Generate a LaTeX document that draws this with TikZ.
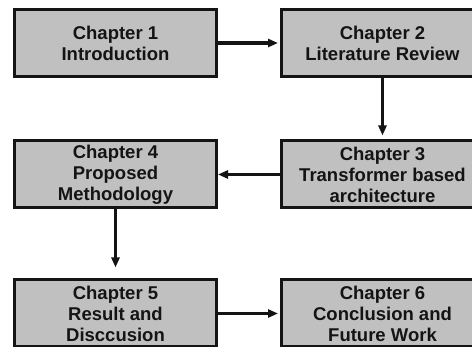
\documentclass[tikz,border=0pt]{standalone}
\usepackage{fontspec}
\setmainfont{Liberation Sans}
\usetikzlibrary{arrows.meta}
\definecolor{boxfill}{HTML}{C0C0C0}
\definecolor{inkdark}{HTML}{141414}
\begin{document}
\begin{tikzpicture}[x=1pt,y=-1pt,
  chapter/.style={draw=inkdark, fill=boxfill, line width=3pt,
    minimum width=202pt, minimum height=67pt, inner sep=0pt,
    align=center, text=inkdark,
    font=\fontsize{18.5}{21}\selectfont\bfseries},
  flow/.style={draw=inkdark, line width=3.6pt,
    -{Triangle[length=10pt,width=8pt]}}]
  \useasboundingbox (0,0) rectangle (472,347);
  \clip (0,0) rectangle (472,347);

  % chapter boxes
  \node[chapter] (c1) at (115.5,43)  {Chapter 1\\Introduction};
  \node[chapter] (c2) at (382.5,43)  {Chapter 2\\Literature Review};
  \node[chapter] (c3) at (382.5,174.5) {Chapter 3\\Transformer based\\architecture};
  \node[chapter] (c4) at (115.5,174.5) {Chapter 4\\Proposed\\Methodology};
  \node[chapter] (c5) at (115.5,313.5) {Chapter 5\\Result and\\Disccusion};
  \node[chapter] (c6) at (382.5,313.5) {Chapter 6\\Conclusion and\\Future Work};

  % reading order
  \draw[flow, shorten >=2pt] (c1.east) -- (c2.west);
  \draw[flow, shorten >=4pt] (c2.south) -- (c3.north);
  \draw[flow] (c3.west) -- (c4.east);
  \draw[flow, shorten >=11pt] (c4.south) -- (c5.north);
  \draw[flow, shorten >=2pt] (c5.east) -- (c6.west);
\end{tikzpicture}
\end{document}
